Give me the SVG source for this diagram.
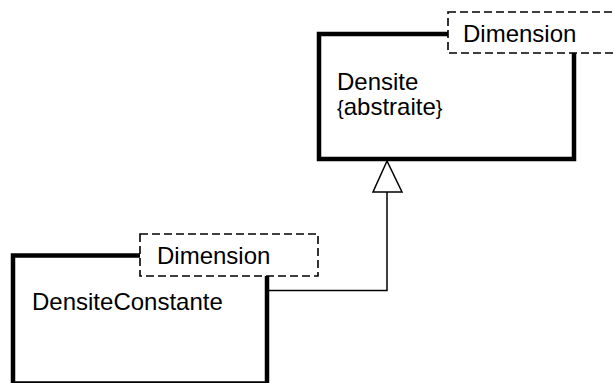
<svg xmlns="http://www.w3.org/2000/svg" width="615" height="383" viewBox="0 0 615 383">
<style>
.cls{fill:#fff;stroke:#000;stroke-width:4.5}
.tpl{fill:#fff;stroke:#000;stroke-width:1.6;stroke-dasharray:8 4}
.t{font-family:"Liberation Sans",Arial,sans-serif;font-size:24px;fill:#000}
.br{font-size:20px}
.c{fill:none;stroke:#000;stroke-width:1.5}
</style>
<rect width="615" height="383" fill="#fff"/>
<g id="Densite">
<rect class="cls" x="319" y="34" width="255" height="125"/>
<text class="t" x="337" y="90">Densite</text>
<text class="t" x="337" y="115"><tspan class="br">{</tspan>abstraite<tspan class="br">}</tspan></text>
<rect class="tpl" x="448" y="12" width="170" height="41"/>
<text class="t" x="463" y="42">Dimension</text>
</g>
<g id="DensiteConstante">
<rect class="cls" x="13" y="255.5" width="254" height="128"/>
<text class="t" x="32" y="310">DensiteConstante</text>
<rect class="tpl" x="140" y="234" width="178" height="42"/>
<text class="t" x="157" y="264">Dimension</text>
</g>
<g id="connectors">
<polyline class="c" points="269,290.5 387,290.5 387,192"/>
<polygon points="387,161 373,192 402,192" fill="#fff" stroke="#000" stroke-width="1.5"/>
</g>
</svg>
